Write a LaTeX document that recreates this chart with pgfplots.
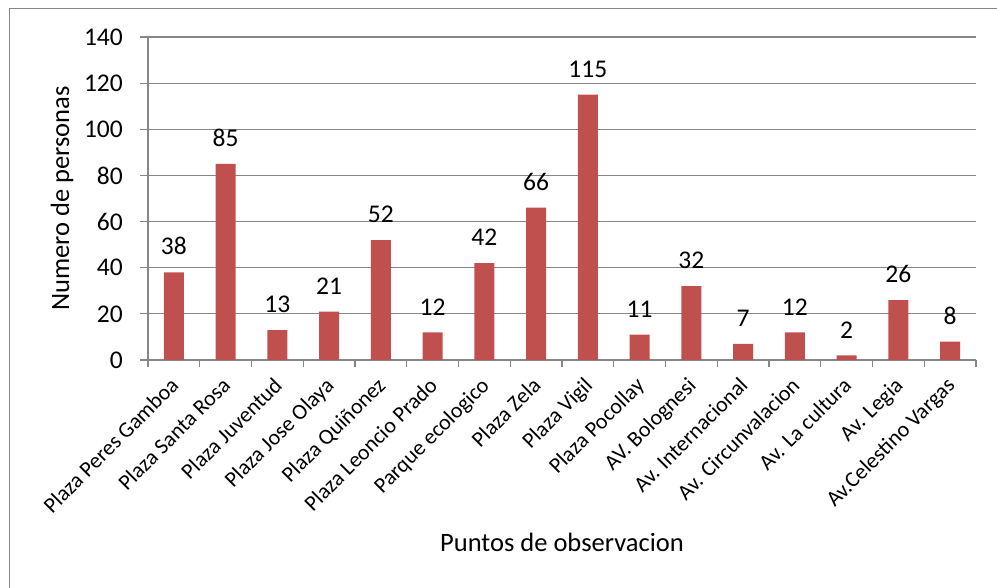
\documentclass[border=0pt]{standalone}
\usepackage{pgfplots}
\pgfplotsset{compat=1.18}
\usepackage{fontspec}
\setmainfont{Carlito}
\definecolor{barred}{HTML}{C0504D}
\definecolor{gridgray}{HTML}{868686}
\begin{document}
\begin{tikzpicture}[x=1pt,y=1pt]
\useasboundingbox (0,0) rectangle (997,588);
\draw[gridgray, line width=1.2pt] (9.5,-10) rectangle (1010,579.5);
\begin{axis}[
  at={(148pt,228pt)}, anchor=south west,
  scale only axis, width=828pt, height=323pt,
  ymin=0, ymax=140, ytick={0,20,...,140},
  xmin=-0.5, xmax=15.5,
  xtick={0,...,15},
  minor xtick={-0.5,0.5,...,15.5},
  xticklabels={Plaza Peres Gamboa, Plaza Santa Rosa, Plaza Juventud, Plaza Jose Olaya, Plaza Quiñonez, Plaza Leoncio Prado, Parque ecologico, Plaza Zela, Plaza Vigil, Plaza Pocollay, AV. Bolognesi, Av. Internacional, Av. Circunvalacion, Av. La cultura, Av. Legia, {Av.Celestino Vargas}},
  axis x line*=bottom, axis y line*=left,
  axis line style={-, gridgray, line width=1.2pt},
  tick align=outside,
  major x tick style={draw=none},
  minor x tick style={gridgray, line width=1.2pt},
  major y tick style={gridgray, line width=1.2pt},
  major tick length=8pt, minor tick length=7pt,
  ymajorgrids, grid style={gridgray, line width=1.2pt},
  /pgf/number format/assume math mode=true,
  yticklabel style={font=\fontsize{25.5}{30}\selectfont, anchor=east, inner sep=0pt, xshift=-17pt},
  xticklabel style={font=\fontsize{22}{26}\selectfont, rotate=45, anchor=north east, inner sep=0pt, xshift=-9pt, yshift=-2pt},
  xlabel={Puntos de observacion},
  ylabel={Numero de personas},
  xlabel style={font=\fontsize{26.5}{31}\selectfont, at={(axis description cs:0.5,0)}, anchor=center, yshift=-182pt},
  ylabel style={font=\fontsize{26.5}{31}\selectfont, at={(axis description cs:0,0.5)}, anchor=center, yshift=86pt},
  ybar, bar width=20pt, bar shift=0pt,
  nodes near coords,
  nodes near coords style={font=\fontsize{25.5}{30}\selectfont, anchor=south, inner sep=0pt, yshift=17pt, black},
  clip=false,
]
\addplot[fill=barred, draw=none] coordinates {
(0,38) (1,85) (2,13) (3,21) (4,52) (5,12) (6,42) (7,66) (8,115) (9,11) (10,32) (11,7) (12,12) (13,2) (14,26) (15,8)
};
\end{axis}
\end{tikzpicture}
\end{document}
